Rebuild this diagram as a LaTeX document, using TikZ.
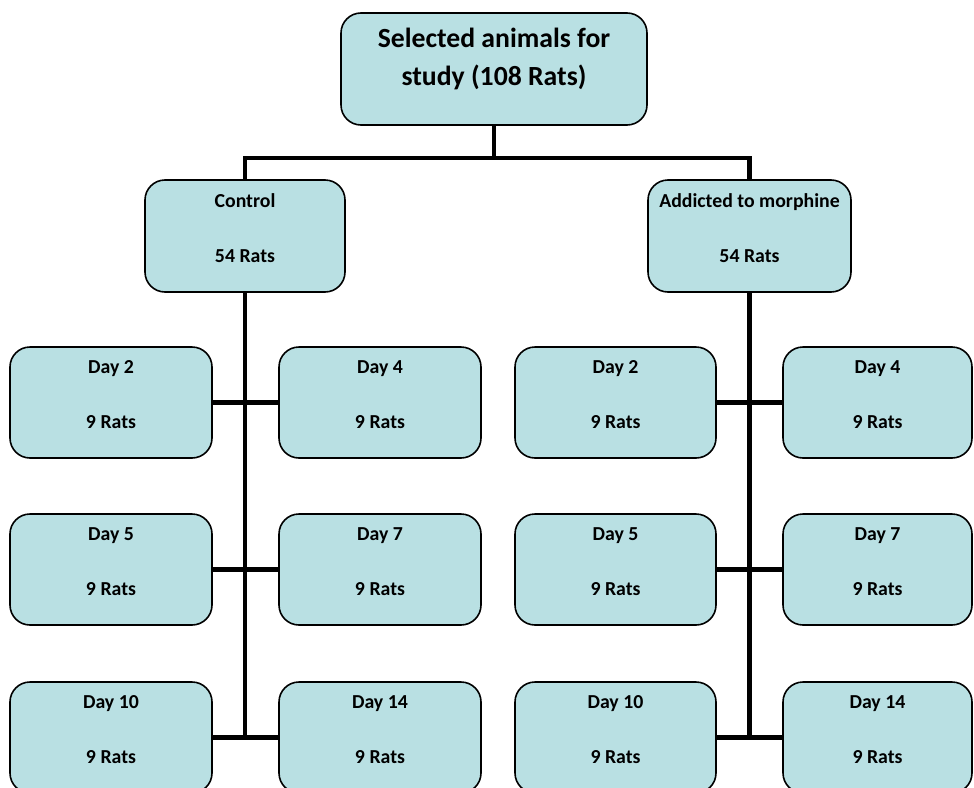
\documentclass[tikz,border=0pt]{standalone}
\usepackage{fontspec}
\setmainfont{Carlito}
\definecolor{boxfill}{RGB}{185,224,227}
\tikzset{
  box/.style={draw=black, line width=1.6pt, fill=boxfill, rounded corners=20pt, inner sep=0pt},
  conn/.style={line width=4.8pt, draw=black},
  smalltxt/.style={font=\fontsize{19.8}{19.8}\selectfont\bfseries, anchor=base, inner sep=0pt},
  bigtxt/.style={font=\fontsize{27.7}{27.7}\selectfont\bfseries, anchor=base, inner sep=0pt}
}
\newcommand\daybox[5]{%
  \node[box, minimum width=#3-#2, minimum height=111] (#1) at ({(#2+#3)/2},{#4+55.5}) {};
  \node[smalltxt] (#1a) at ({(#2+#3)/2},{#4+26}) {Day #5};
  \node[smalltxt] (#1b) at ({(#2+#3)/2},{#4+81}) {9 Rats};
}
\begin{document}
\begin{tikzpicture}[x=1pt,y=-1pt]
\clip (0,0) rectangle (974,787);
\fill[white] (0,0) rectangle (974,787);

\node[box, minimum width=306, minimum height=112] (top) at (494,69) {};
\node[box, minimum width=200, minimum height=112] (ctrl) at (245,236) {};
\node[box, minimum width=203, minimum height=112] (add) at (749.5,236) {};

\daybox{aa}{10}{212}{347}{2}
\daybox{ab}{279}{481}{347}{4}
\daybox{ac}{515}{716}{347}{2}
\daybox{ad}{783}{972}{347}{4}
\daybox{ba}{10}{212}{514}{5}
\daybox{bb}{279}{481}{514}{7}
\daybox{bc}{515}{716}{514}{5}
\daybox{bd}{783}{972}{514}{7}
\daybox{ca}{10}{212}{682}{10}
\daybox{cb}{279}{481}{682}{14}
\daybox{cc}{515}{716}{682}{10}
\daybox{cd}{783}{972}{682}{14}

\coordinate (j0) at (494,158);
\draw[conn] (top.south) -- (j0);
\draw[conn] (ctrl.north) |- (j0) -| (add.north);
\draw[conn] (ctrl.south) -- (ctrl.south |- ca.east);
\draw[conn] (add.south) -- (add.south |- cc.east);
\draw[conn] (aa.east) -- (ab.west);
\draw[conn] (ba.east) -- (bb.west);
\draw[conn] (ca.east) -- (cb.west);
\draw[conn] (ac.east) -- (ad.west);
\draw[conn] (bc.east) -- (bd.west);
\draw[conn] (cc.east) -- (cd.west);

\node[bigtxt] (t1) at (494,47) {Selected animals for};
\node[bigtxt] (t2) at (494,85) {study (108 Rats)};
\node[smalltxt] (ctrl1) at (245,207) {Control};
\node[smalltxt] (ctrl2) at (245,262) {54 Rats};
\node[smalltxt] (add1) at (749.5,207) {Addicted to morphine};
\node[smalltxt] (add2) at (749.5,262) {54 Rats};
\end{tikzpicture}
\end{document}
